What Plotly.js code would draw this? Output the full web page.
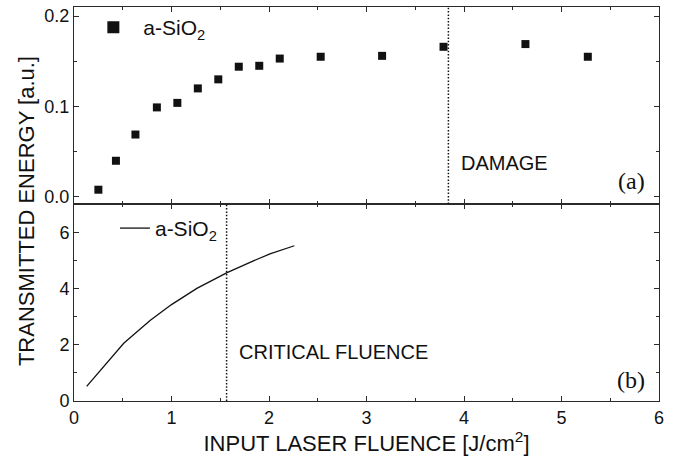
<!DOCTYPE html>
<html><head><meta charset="utf-8">
<script src="https://cdn.plot.ly/plotly-3.0.1.min.js"></script>
<style>html,body{margin:0;padding:0;background:#fff}#chart{width:677px;height:458px}</style>
</head><body><div id="chart"></div>
<script>
// (a) measured transmitted energy
const fluenceA = [0.25, 0.43, 0.63, 0.85, 1.06, 1.27, 1.48, 1.69, 1.90, 2.11, 2.53, 3.16, 3.79, 4.63, 5.27];
const energyA  = [0.008, 0.040, 0.069, 0.099, 0.104, 0.120, 0.130, 0.144, 0.145, 0.153, 0.155, 0.156, 0.166, 0.169, 0.155];
// (b) calculated curve
const fluenceB = [0.13, 0.51, 0.78, 1.00, 1.26, 1.57, 1.80, 2.01, 2.26];
const energyB  = [0.52, 2.06, 2.87, 3.44, 4.02, 4.58, 4.94, 5.25, 5.54];
const seriesName = 'a-SiO<sub>2</sub>';
const damageX = 3.84;
const criticalX = 1.565;
const xTickVals = [0, 1, 2, 3, 4, 5, 6];
const yTopTicks = [0.0, 0.1, 0.2];
const yBotTicks = [0, 2, 4, 6];

const FONT = 'Liberation Sans, Arial, Helvetica, sans-serif';
const SERIF = 'Liberation Serif, Times New Roman, serif';
const frame = '#2a2a2a';

const common = {
  showline: true, linecolor: frame, linewidth: 1, mirror: 'ticks',
  ticks: 'inside', ticklen: 5, tickcolor: frame, tickwidth: 1,
  showgrid: false, zeroline: false,
  tickfont: {family: FONT, size: 18, color: '#111'}
};

const traces = [
  {x: fluenceA, y: energyA, xaxis: 'x2', yaxis: 'y2', mode: 'markers', type: 'scatter',
   name: seriesName, legend: 'legend',
   marker: {symbol: 'square', size: 8, color: '#111'}},
  {x: fluenceB, y: energyB, xaxis: 'x', yaxis: 'y', mode: 'lines', type: 'scatter',
   name: seriesName, legend: 'legend2',
   line: {color: '#111', width: 1.3}}
];

const layout = {
  width: 677, height: 458,
  margin: {l: 74, r: 18, t: 7, b: 57},
  paper_bgcolor: '#fff', plot_bgcolor: '#fff',
  font: {family: FONT, color: '#111'},
  xaxis: Object.assign({}, common, {
    domain: [0, 1], anchor: 'y', range: [0, 6], tickvals: xTickVals,
    minor: {ticks: 'inside', dtick: 0.5, ticklen: 3, tickcolor: frame},
    title: {text: 'INPUT LASER FLUENCE [J/cm<sup>2</sup>]', font: {family: FONT, size: 22, color: '#111'}, standoff: 4}
  }),
  xaxis2: Object.assign({}, common, {
    domain: [0, 1], anchor: 'y2', range: [0, 6], matches: 'x', tickvals: xTickVals, showticklabels: false,
    minor: {ticks: 'inside', dtick: 0.5, ticklen: 3, tickcolor: frame}
  }),
  yaxis: Object.assign({}, common, {
    domain: [0, 0.5], anchor: 'x', range: [0, 7.03], tickvals: yBotTicks,
    minor: {ticks: 'inside', dtick: 1, ticklen: 3, tickcolor: frame}
  }),
  yaxis2: Object.assign({}, common, {
    domain: [0.5, 1], anchor: 'x2', range: [-0.0078, 0.21], tickvals: yTopTicks, tickformat: '.1f',
    minor: {ticks: 'inside', dtick: 0.05, ticklen: 3, tickcolor: frame}
  }),
  showlegend: true,
  legend: {x: 0.016, y: 1.0, xanchor: 'left', yanchor: 'top', bgcolor: 'rgba(0,0,0,0)',
           font: {family: FONT, size: 21, color: '#111'}, itemwidth: 50, itemsizing: 'constant'},
  legend2: {x: 0.07, y: 0.49, xanchor: 'left', yanchor: 'top', bgcolor: 'rgba(0,0,0,0)',
            font: {family: FONT, size: 21, color: '#111'}, itemwidth: 30},
  shapes: [
    {type: 'line', xref: 'x2', yref: 'y2 domain', x0: damageX, x1: damageX, y0: 0, y1: 1,
     line: {color: '#111', width: 1.5, dash: '1.5px,1.8px'}},
    {type: 'line', xref: 'x', yref: 'y domain', x0: criticalX, x1: criticalX, y0: 0, y1: 1,
     line: {color: '#111', width: 1.5, dash: '1.5px,1.8px'}}
  ],
  annotations: [
    {text: 'DAMAGE', xref: 'x2', yref: 'y2', x: 3.95, y: 0.037, xanchor: 'left', yanchor: 'middle',
     showarrow: false, font: {family: FONT, size: 20, color: '#111'}},
    {text: 'CRITICAL FLUENCE', xref: 'x', yref: 'y', x: 1.67, y: 1.76, xanchor: 'left', yanchor: 'middle',
     showarrow: false, font: {family: FONT, size: 20, color: '#111'}},
    {text: '(a)', xref: 'x2', yref: 'y2', x: 5.88, y: 0.018, xanchor: 'right', yanchor: 'middle',
     showarrow: false, font: {family: SERIF, size: 24, color: '#111'}},
    {text: '(b)', xref: 'x', yref: 'y', x: 5.88, y: 0.75, xanchor: 'right', yanchor: 'middle',
     showarrow: false, font: {family: SERIF, size: 24, color: '#111'}},
    {text: 'TRANSMITTED ENERGY [a.u.]', xref: 'paper', yref: 'paper', x: -0.082, y: 0.482,
     xanchor: 'center', yanchor: 'middle', textangle: -90, showarrow: false,
     font: {family: FONT, size: 22, color: '#111'}}
  ]
};

Plotly.newPlot('chart', traces, layout, {staticPlot: true, displayModeBar: false});
</script>
</body></html>
